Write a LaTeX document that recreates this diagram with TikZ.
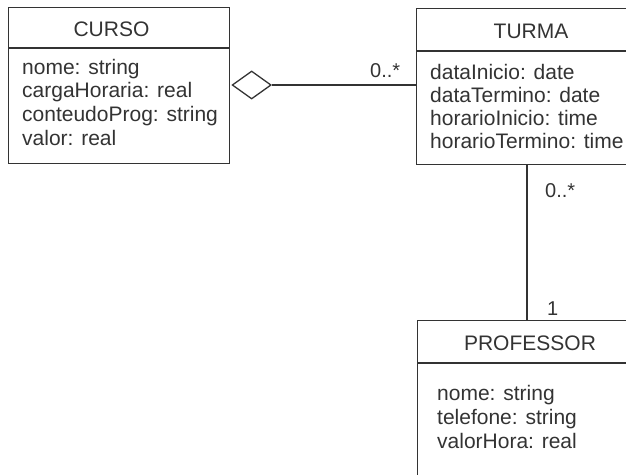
\documentclass[tikz,border=0pt]{standalone}
\usepackage{fontspec}
\setmainfont{Liberation Sans}
\usetikzlibrary{shapes.geometric}
\definecolor{ink}{HTML}{333333}
\begin{document}
\begin{tikzpicture}[x=1pt,y=-1pt,
  box/.style={draw=ink, line width=1.3pt, anchor=north west, inner sep=0pt, rectangle},
  head/.style={text=ink, font=\fontsize{21}{23}\selectfont, anchor=base, inner sep=0pt},
  attr/.style={text=ink, font=\fontsize{21}{23}\selectfont, anchor=base west, inner sep=0pt},
  mult/.style={text=ink, font=\fontsize{20}{22}\selectfont, inner sep=0pt, anchor=base west},
  conn/.style={draw=ink, line width=1.3pt}]
\clip (0,0) rectangle (626,474);
\useasboundingbox (0,0) rectangle (626,474);
% CURSO
\node[box, minimum width=221pt, minimum height=156pt] (curso) at (8,7) {};
\draw[conn] (8,48) -- (229,48);
\node[head] (cursoh) at (111.5,36.7) {CURSO};
\node[attr] (ca1) at (22,74) {nome: string};
\node[attr] (ca2) at (22,97.5) {cargaHoraria: real};
\node[attr] (ca3) at (22,121) {conteudoProg: string};
\node[attr] (ca4) at (22,145) {valor: real};
% TURMA
\node[box, minimum width=212pt, minimum height=156pt] (turma) at (416,8) {};
\draw[conn] (416,51) -- (628,51);
\node[head] (turmah) at (531,38) {TURMA};
\node[attr] (ta1) at (430,79) {dataInicio: date};
\node[attr] (ta2) at (430,102) {dataTermino: date};
\node[attr] (ta3) at (430,125) {horarioInicio: time};
\node[attr] (ta4) at (430,148) {horarioTermino: time};
% PROFESSOR
\node[box, minimum width=211pt, minimum height=170pt] (prof) at (417,320) {};
\draw[conn] (417,363) -- (628,363);
\node[head] (profh) at (530,350.7) {PROFESSOR};
\node[attr] (pa1) at (437,400) {nome: string};
\node[attr] (pa2) at (437,424) {telefone: string};
\node[attr] (pa3) at (437,448) {valorHora: real};
% aggregation
\node[diamond, draw=ink, line width=1.3pt, fill=white, minimum width=39pt, minimum height=28pt, inner sep=0pt, anchor=west] (agg) at (231.5,85) {};
\draw[conn] (agg.east) -- (turma.west |- agg.east);
\node[mult] (m1) at (370,77) {0..*};
% association
\draw[conn] ([xshift=111pt]turma.south west) -- ([xshift=110pt]prof.north west);
\node[mult] (m2) at (545,197) {0..*};
\node[mult] (m3) at (547,315) {1};
\end{tikzpicture}
\end{document}
